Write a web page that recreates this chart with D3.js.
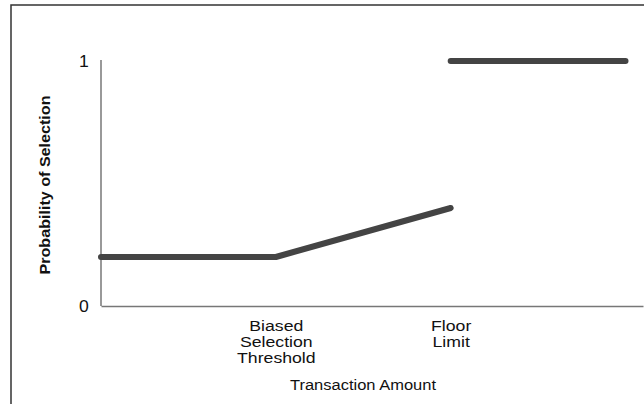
<!DOCTYPE html>
<html><head><meta charset="utf-8">
<script src="https://cdn.jsdelivr.net/npm/d3@7"></script>
<style>
body{margin:0;background:#fff;}
text{font-family:"Liberation Sans",Arial,sans-serif;fill:#111;}
</style></head>
<body>
<svg id="c" width="644" height="404"></svg>
<script>
// Data
const xTickValues = [1, 2];
const xTickLabels = [["Biased","Selection","Threshold"],["Floor","Limit"]];
const yTickValues = [0, 1];
const seg1X = [0, 1, 2];
const seg1Y = [0.2, 0.2, 0.4];
const seg2X = [2, 3];
const seg2Y = [1, 1];
const xTitle = "Transaction Amount";
const yTitle = "Probability of Selection";

const svg = d3.select("#c");
svg.append("rect").attr("x",11).attr("y",5).attr("width",700).attr("height",500)
  .attr("fill","none").attr("stroke","#333").attr("stroke-width",1.5);

const x = d3.scaleLinear().domain([0,3.1]).range([101,643]);
const y = d3.scaleLinear().domain([0,1]).range([306,61]);

// axes
const yAxis = svg.append("g").attr("transform","translate(101,0)")
  .call(d3.axisLeft(y).tickValues(yTickValues).tickSize(0).tickPadding(11).tickFormat(d3.format("d")));
yAxis.attr("font-size",null);
yAxis.select(".domain").attr("stroke","#777").attr("stroke-width",1.5).attr("d","M0,306V60");
yAxis.selectAll("text").attr("font-size",16).style("font-size","16px").attr("fill","#111").attr("dy","0.36em")
  .attr("transform","scale(1.1,1)");

const xAxis = svg.append("g").attr("transform","translate(0,306)")
  .call(d3.axisBottom(x).tickValues(xTickValues).tickSize(0).tickFormat(""));
xAxis.attr("font-size",null);
xAxis.select(".domain").attr("stroke","#777").attr("stroke-width",1.5);
xAxis.selectAll(".tick").each(function(d,i){
  const g = d3.select(this);
  const t = g.append("text").attr("text-anchor","middle").style("font-size","14.5px")
    .attr("fill","#111").attr("transform","scale(1.22,1)");
  xTickLabels[i].forEach((s,j)=>{
    t.append("tspan").attr("x",0).attr("y",25+j*16).text(s);
  });
});

// titles
svg.append("text").attr("text-anchor","middle").style("font-size","15px")
  .attr("transform",`translate(363,390) scale(1.1,1)`).text(xTitle);
svg.append("text").attr("text-anchor","middle").style("font-size","15.5px").attr("font-weight","bold")
  .attr("transform",`translate(50,185) rotate(-90) scale(1.04,1)`).text(yTitle);

// lines
const line = d3.line().x(d=>x(d[0])).y(d=>y(d[1]));
svg.append("path").datum(seg1X.map((v,i)=>[v,seg1Y[i]])).attr("d",line)
  .attr("fill","none").attr("stroke","#444").attr("stroke-width",6).attr("stroke-linecap","round").attr("stroke-linejoin","round");
svg.append("path").datum(seg2X.map((v,i)=>[v,seg2Y[i]])).attr("d",line)
  .attr("fill","none").attr("stroke","#444").attr("stroke-width",6).attr("stroke-linecap","round");
</script>
</body></html>
